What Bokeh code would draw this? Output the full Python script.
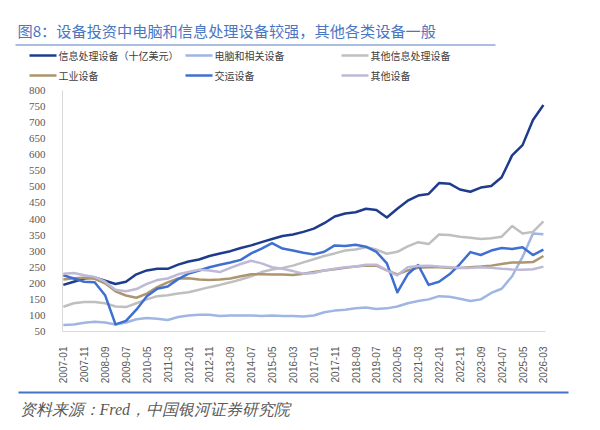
import math
from bokeh.plotting import figure
from bokeh.layouts import column
from bokeh.models import Range1d, FixedTicker
from bokeh.core.properties import value
from bokeh.embed import file_html
from bokeh.resources import INLINE

dates = ["2007-01", "2007-06", "2007-11", "2008-04", "2008-09", "2009-02", "2009-07", "2009-12",
         "2010-05", "2010-10", "2011-03", "2011-08", "2012-01", "2012-06", "2012-11", "2013-04",
         "2013-09", "2014-02", "2014-07", "2014-12", "2015-05", "2015-10", "2016-03", "2016-08",
         "2017-01", "2017-06", "2017-11", "2018-04", "2018-09", "2019-02", "2019-07", "2019-12",
         "2020-05", "2020-10", "2021-03", "2021-08", "2022-01", "2022-06", "2022-11", "2023-04",
         "2023-09", "2024-02", "2024-07", "2024-12", "2025-05", "2025-10", "2026-03"]

info_proc = [195, 205, 215, 218, 208, 198, 205, 228, 240, 245, 245, 258, 268, 274, 285, 293,
             300, 310, 318, 328, 338, 347, 352, 360, 370, 387, 408, 417, 421, 432, 428, 405,
             432, 457, 473, 478, 512, 510, 492, 485, 498, 503, 530, 598, 630, 708, 755]
computers = [70, 72, 77, 80, 78, 72, 78, 88, 92, 90, 86, 95, 100, 102, 102, 98,
             100, 100, 100, 98, 100, 98, 98, 97, 100, 110, 115, 118, 122, 125, 120, 122,
             128, 138, 145, 150, 160, 158, 152, 145, 150, 170, 183, 222, 282, 355, 353]
other_info = [127, 138, 142, 142, 138, 128, 126, 138, 150, 160, 163, 168, 172, 180, 188, 195,
              203, 212, 222, 235, 243, 248, 255, 265, 275, 285, 293, 302, 305, 312, 305, 292,
              298, 315, 328, 322, 352, 350, 345, 342, 338, 340, 345, 378, 355, 360, 393]
industrial = [212, 216, 217, 214, 200, 175, 162, 155, 168, 188, 203, 215, 216, 212, 210, 212,
              215, 222, 228, 228, 227, 227, 226, 230, 235, 240, 244, 248, 252, 255, 255, 240,
              228, 240, 248, 250, 250, 248, 248, 250, 252, 255, 260, 265, 265, 266, 285]
transport = [225, 215, 205, 203, 163, 72, 83, 118, 160, 183, 190, 213, 230, 240, 250, 258,
             265, 273, 293, 308, 325, 308, 302, 295, 290, 298, 318, 316, 320, 314, 298, 262,
             172, 228, 257, 195, 205, 228, 260, 297, 288, 302, 310, 307, 312, 288, 305]
other_eq = [230, 232, 225, 220, 205, 180, 175, 182, 198, 210, 215, 228, 235, 242, 240, 235,
            248, 260, 270, 262, 250, 245, 238, 230, 232, 240, 245, 250, 252, 258, 258, 240,
            225, 250, 254, 255, 252, 250, 248, 248, 250, 248, 245, 243, 242, 244, 252]

tick_labels = ["2007-01", "2007-11", "2008-09", "2009-07", "2010-05", "2011-03", "2012-01",
               "2012-11", "2013-09", "2014-07", "2015-05", "2016-03", "2017-01", "2017-11",
               "2018-09", "2019-07", "2020-05", "2021-03", "2022-01", "2022-11", "2023-09",
               "2024-07", "2025-05", "2026-03"]
y_ticks = [50, 100, 150, 200, 250, 300, 350, 400, 450, 500, 550, 600, 650, 700, 750, 800]

series_names = ["信息处理设备（十亿美元）", "电脑和相关设备", "其他信息处理设备",
                "工业设备", "交运设备", "其他设备"]
series_values = [info_proc, computers, other_info, industrial, transport, other_eq]
series_colors = ["#1F3C8C", "#9FB6E3", "#BFBFBF", "#AD9570", "#3F6FD1", "#BDB9D6"]

title_text = "图8：设备投资中电脑和信息处理设备较强，其他各类设备一般"
source_text = "资料来源：Fred，中国银河证券研究院"

W = 584
H_HEAD, H_MAIN, H_FOOT = 84, 302, 36


def month_index(s):
    y, m = s.split("-")
    return (int(y) - 2007) * 12 + int(m) - 1


def blank(h):
    f = figure(width=W, height=h, output_backend="svg", toolbar_location=None,
               x_range=Range1d(0, W), y_range=Range1d(h, 0),
               x_axis_type=None, y_axis_type=None, frame_align=False,
               min_border=0, min_border_left=0, min_border_right=0,
               min_border_top=0, min_border_bottom=0)
    f.outline_line_color = None
    f.grid.visible = False
    f.background_fill_color = "white"
    f.border_fill_color = "white"
    return f


# ---------- header: title + legend ----------
head = blank(H_HEAD)
head.text(x=[17], y=[29.5], text=[title_text], text_font=value("Noto Sans CJK SC"),
          text_font_size="15.2px", text_color="#4A76C4", text_baseline="middle", text_align="left")
head.segment(x0=[15], y0=[44.5], x1=[495], y1=[44.5], line_color="#8EA9DB", line_width=1.5)

col_line = [29, 185, 341]
rows = [55, 75]
for i, (name, col) in enumerate(zip(series_names, series_colors)):
    r, c = divmod(i, 3)
    x0 = col_line[c]
    yy = rows[r]
    head.segment(x0=[x0], y0=[yy], x1=[x0 + 27], y1=[yy], line_color=col, line_width=2.5)
    head.text(x=[x0 + 29], y=[yy], text=[name], text_font=value("Noto Sans CJK SC"),
              text_font_size="10px", text_color="#404040", text_baseline="middle",
              text_align="left")

# ---------- main chart ----------
xs = [month_index(d) for d in dates]

p = figure(width=W, height=H_MAIN, output_backend="svg", toolbar_location=None,
           x_range=Range1d(-0.4, 231), y_range=Range1d(50, 800), frame_align=False,
           min_border_left=62, min_border_right=39, min_border_top=6, min_border_bottom=46)
p.outline_line_color = None
p.grid.visible = False
p.background_fill_color = "white"
p.border_fill_color = "white"

p.xaxis.ticker = FixedTicker(ticks=[month_index(t) for t in tick_labels])
p.xaxis.major_label_overrides = {month_index(t): t for t in tick_labels}
p.xaxis.major_label_orientation = math.pi / 2
p.xaxis.major_label_text_font = "Liberation Sans"
p.xaxis.major_label_text_font_size = "10px"
p.xaxis.major_label_text_color = "#595959"
p.xaxis.major_label_standoff = 9
p.xaxis.axis_line_color = "#D9D9D9"
p.xaxis.major_tick_line_color = None
p.xaxis.minor_tick_line_color = None

p.yaxis.ticker = FixedTicker(ticks=y_ticks)
p.yaxis.major_label_text_font = "Liberation Serif"
p.yaxis.major_label_text_font_size = "11px"
p.yaxis.major_label_text_color = "#595959"
p.yaxis.major_label_standoff = 11
p.yaxis.axis_line_color = "#D9D9D9"
p.yaxis.major_tick_line_color = None
p.yaxis.minor_tick_line_color = None

for vals, col in zip(series_values, series_colors):
    p.line(xs, vals, line_color=col, line_width=2.5, line_join="round")

# ---------- footer: rule + source ----------
foot = blank(H_FOOT)
foot.segment(x0=[18], y0=[6], x1=[568], y1=[6], line_color="#4472C4", line_width=1.8)
foot.text(x=[19], y=[23], text=[source_text], text_font=value("Liberation Serif"),
          text_font_style="italic", text_font_size="16px", text_color="#595959",
          text_baseline="middle", text_align="left")

layout = column(head, p, foot, spacing=0)
open("out.html", "w").write(file_html(layout, INLINE))
